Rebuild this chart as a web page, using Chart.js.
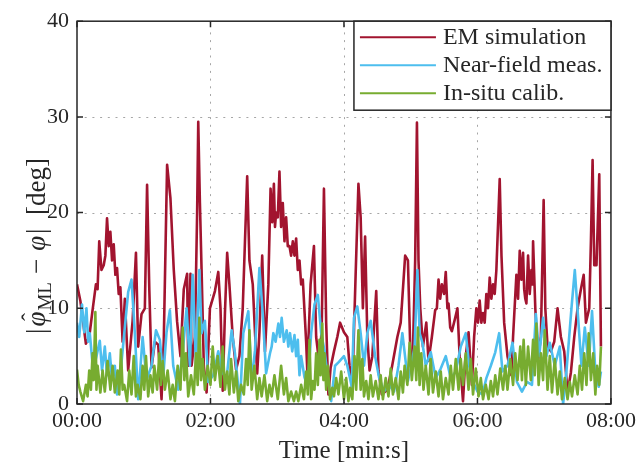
<!DOCTYPE html>
<html>
<head>
<meta charset="utf-8">
<script src="https://cdn.jsdelivr.net/npm/chart.js@4.4.0/dist/chart.umd.min.js"></script>
<style>
  html, body { margin:0; padding:0; background:#fff; }
  #wrap { width:640px; height:464px; }
</style>
</head>
<body>
<div id="wrap"><canvas id="c" width="640" height="464"></canvas></div>
<script>
/* phase error over time, three calibration methods (time in s, error in deg) */
const emTime = [0,3,8,11,14,17,20,24,27,30,33,36,39,41,43,46,50,53,55,58,
  61,63,65,67,70,73,76,78,81,84,87,90,93,96,99,100,102,103,106,108,
  109,110.5,112,114,116.5,119.5,124,127,129,131,133,135,137,140,143,146,149,151,153,155,
  158,160,162,164,166.5,169,172,174,177,179,182,185,188,191,194,197,200,203,206,207,
  210,213,215,218,220,222,224,226,228,231,234,236.5,240,243,245,247.5,250.5,253,255,257,
  259,261,263,265.5,269,271,274,279,283,288,291,295,297.5,300,302,304,305.6,307,308.6,311,
  314,316,319,322,325,328,331.5,334,337,340,342,344,347,349,352,355,357,359,362,365,
  368,371,374,377,380,381.6,384,387,390.5,392,395,398,401,403,405.5,408.5,410,412,414.4,417,
  419.5,421,423,426,429,432,435,438,441,444,447,450,453,455.5,457.5,460.5,462,463.5,465,467,
  469.5,471];
const emErr = [12.5,10.8,6.3,7,9.8,12.5,17,14.5,19.4,18,16.7,14.2,12.2,6.5,11,3.5,8.7,15.8,6,9.4,
  10,22.9,12,3.8,6.5,6.2,0.5,6.6,25,21.5,14,8.6,5,12,13.6,4,13.6,4,7,20,
  29.5,21,14,4,1.2,10,11.8,13.8,10,1.4,9.5,15.8,12.5,7,3.6,5,10,17,23.8,15,
  12.5,7.5,3.2,7.5,15.5,5.5,12.5,22.5,23,20,24.3,21,19.5,16.5,17,17.3,15,13,6.5,3.5,
  12.5,16.5,7,4,8,22.5,8.5,1,3.8,5.5,7,8.5,7.5,7,4,1.7,13.6,23,19.5,10,
  17.5,7,3.5,5,11.8,3.5,1,1.5,3.8,7,8.5,15.5,15,4,5.5,15,29.4,15,10,6,
  8.5,4.5,7,9.8,13,12.5,13.8,10.5,7.6,9,10,5,0.3,4.5,7.5,2,7,10,10.8,9.5,
  11.5,13.2,12.5,14,23.5,15.5,8.5,5,3,7,13.5,16,15.8,11,15.5,14,17,10,4.5,7,
  21.3,10,6,5.5,6.5,10,7,5.5,1.2,3.3,7,10,12,13.5,8.5,10,17,25.5,14.5,14.5,
  24,6];
// lower edge of the thick EM humps
const emDipTime = [18.5,22,25.5,28.5,31.5,34.5,37.5,175.5,178,180.5,183.5,186.5,189.5,192.5,195.5,198.5,201.5,
  323.5,326.5,330,333,335.5,360.5,363.5,366.5,369.5,372.5,375.5,396.5,399.5,402,404,407,409.5];
const emDipErr = [12,14,15.5,16.5,15,13.5,11.5,19,18.5,19.5,18.5,17,16.5,15.5,15.5,14,12.5,
  10,11,11.5,10,8,8.5,8.5,8.5,10,11,11.5,11,13,12,10.5,11.5,12.5];

const nfTime = [0,4.5,8.5,11.5,14.5,17.5,20.5,25,29.5,34,38.5,43,46,49,52,55,59,62.5,67,71,
  74.5,77.5,80.5,83.5,86.5,91,95.5,98.5,101.5,104,107,110,112,115,118,122.5,127,130,134.5,139,
  142,146.5,149.5,154,157,160,164,167,170,173.5,176.5,181,184,188.5,191.5,195.5,198.5,201.5,204.5,207.5,
  210.5,213.5,216.5,219.5,222.5,225.5,228.5,232,235.5,240,243,247,249,252,255,258,261,264,268,271.5,
  276,280.5,285,289,292.5,297.5,300.5,303.5,306,308,310.5,313.5,318,322.5,327,331.5,336,340.5,345,349.5,
  352.5,356,360,364.5,368,372,376,379.5,382.5,387,391.5,395.5,400,404.5,409,412.5,415.5,419,422,425,
  429.5,434,437,440,444.5,447.5,450.5,453.5,456.5,460,463,466,469,471];
const nfErr = [8.5,10.4,10,7.4,3.5,5,6.6,6,5.3,4,2.5,8,11.7,13,7.4,0.5,7,2.5,4,7.7,
  6.7,2.8,7.5,9.8,4,1.5,6,10,4,13.5,4,14,7.4,8.7,2.3,3,5.5,3.4,2.7,7.7,
  5.3,0,7.4,9.7,2.4,5.6,14.2,9.4,3.2,5.3,7.4,8.4,9,7.7,7.4,7.2,6.7,5,2.8,1.8,
  7.4,10.4,11.4,7.4,5.6,2.7,0.3,4,4.4,5,4,1.8,9,10.2,7.4,4,7.4,8.7,5,2.8,
  1.3,2,1.3,4,7.4,2.4,4,6,14,7.4,6.4,4,5.4,2.7,3.7,5,2.7,3.4,6,7.4,
  4,2.3,1.3,1,2.7,4,5.4,7.4,3.4,4,6.4,2.3,1.3,2.3,2,9.4,5,9,5,6.4,
  4,6,0,3.4,10,14,9,4,8,4,9.7,3.4,1.8,3.4];
// lower edge of the near-field band
const nfDipTime = [2,6.5,10,22.5,27,31.5,36,175,178.5,182.5,186,190,193.5,197,200];
const nfDipErr = [7,7.5,6.5,3.5,3,2.5,1,6,6.5,7,6.5,6,5.5,5,3];

const isTime = [0,3,8,11,14,16.5,18.5,23,27.5,32,36.5,39.5,42.5,47,51,54.5,59,62,66,69.5,
  74,77,81.5,86,90.5,95,98,102.5,107,110,113,117.5,122,126.5,131,135,138.5,143,147.5,152,
  155,159.5,164,168.5,173,177.5,183.5,188,192.5,197,201.5,206,209,212,215,218,220.5,222.5,225.5,229.5,
  233,237.5,242,245.5,249.5,253,256.5,260,264,268.5,273,277.5,282,286.5,291,294.5,299,303.5,306.5,309.5,
  313.5,318,322.5,327,331.5,336,340.5,345,349.5,354,358.5,363,367.5,372,376,380.5,385,389.5,394,398.5,
  401.5,405.5,410,413,417,420.5,425,429.5,434,438.5,443,447.5,452,456,460,464,467.5,471];
const isErr = [3.6,1.3,2,3.5,5.3,9.6,4,3.5,4.5,4,3.5,5.7,2,3.5,5,2,4,5,3,4,
  5.3,4.5,3.5,2,4,8,5.3,3,5.3,9,4.7,4,6,5,6,3.4,4.7,3.4,2,4.7,
  7.7,4,2.7,3,2,3,4,2.7,1.3,1.3,2,3.4,6.7,2.4,5.3,6.7,8.4,5.3,4,1.7,
  2.7,3.4,2.7,1.7,5,7.7,4.7,2.4,3,2.4,3,2.7,3.7,2.7,3.4,4,6.4,6,8,5.3,
  4,4.7,3.4,3.4,2.7,4,4.7,4.7,5.3,4.7,3.7,2.7,2,2.4,3,3.7,4,4.7,5.3,6,
  6.7,6,6.7,8.4,5.3,7.7,5,4.7,3.4,2.7,2.3,3,4,5.3,7.4,5.3,4,6];
// lower edge of the in-situ band
const isDipTime = [1.5,5.5,9.5,12.5,15,17.5,21,25,30,34,38,41,45,49,53,57,60.5,64,68,72,
  75.5,79,84,88,93,96.5,100,105,108.5,111.5,115,120,124,129,133,137,141,145,150,153.5,
  157,162,166,171,175,180.5,186,190,195,199,204,207.5,210.5,213.5,216.5,219,221.5,224,227.5,231,
  235,240,244,247.5,251,255,258,262,266,271,275,280,284,289,293,297,301,305,308,311.5,
  316,320,325,329,334,338,343,347,352,356,361,365,370,374,378,383,387,392,396,400,
  403.5,408,411.5,415,419,423,427,432,436,441,445,450,454,458,462,466,469.5];
const isDipErr = [2,0.3,0.8,1.5,2.5,1.5,1.2,1.3,1.5,1.2,1,1.5,0.3,1,0.8,0.5,1.5,0.8,1.2,1.5,
  2,1.5,0.5,0.3,1.5,2.5,0.8,1,2,2.5,1.5,2,2.5,1.8,1.5,1,1.2,0.3,1,2,
  1.5,0.5,0.8,0.3,0.8,0.5,1,0.3,0.3,0.3,0.5,1,0.5,1.5,2,3,2.5,1.5,0.5,0.8,
  1,0.5,0.3,0.5,1.5,1.5,0.8,0.5,0.8,0.5,0.5,0.8,1,0.5,1.2,2,2.5,2.5,2,1.5,
  1,1.2,0.8,0.5,1,1.5,1.5,2,1.5,1,0.8,0.5,0.5,0.8,1,1.5,1.5,2,2.5,2.5,
  2,2.5,3,2,2.5,1.5,1.2,1,0.5,0.5,0.8,1,1.5,2,2.5,1,2];

const seriesNames = ['EM simulation', 'Near-field meas.', 'In-situ calib.'];
const seriesColors = ['#A2142F', '#4DBEEE', '#77AC30'];
const xTickValues = [0, 120, 240, 360, 480];
const xTickLabels = ['00:00', '02:00', '04:00', '06:00', '08:00'];
const yTickValues = [0, 10, 20, 30, 40];

const SERIF = '"Liberation Serif", "Times New Roman", serif';
const INK = '#262626';

// merge the upper readings with the band's lower edge, in time order
function pts(t, v, dt, dv){
  const a = t.map((x, i) => ({ x: x, y: v[i] }));
  const b = dt.map((x, i) => ({ x: x, y: dv[i] }));
  return a.concat(b).sort((p, q) => p.x - q.x);
}

// grid, box, inward ticks, legend and axis labels drawn by hand (MATLAB look)
const matlabAxes = {
  id: 'matlabAxes',
  beforeDatasetsDraw(chart){
    const { ctx, chartArea: a, scales: { x, y } } = chart;
    ctx.save();
    ctx.strokeStyle = '#a6a6a6';
    ctx.lineWidth = 1;
    ctx.setLineDash([2, 5.7]);
    xTickValues.slice(1, -1).forEach(v => {
      const px = Math.round(x.getPixelForValue(v)) + 0.5;
      ctx.beginPath(); ctx.moveTo(px, a.bottom); ctx.lineTo(px, a.top); ctx.stroke();
    });
    yTickValues.slice(1, -1).forEach(v => {
      const py = Math.round(y.getPixelForValue(v)) + 0.5;
      ctx.beginPath(); ctx.moveTo(a.left, py); ctx.lineTo(a.right, py); ctx.stroke();
    });
    ctx.restore();
  },
  afterDatasetsDraw(chart){
    const { ctx, chartArea: a, scales: { x, y } } = chart;
    ctx.save();
    ctx.strokeStyle = INK;
    ctx.lineWidth = 1.5;
    ctx.setLineDash([]);
    ctx.strokeRect(a.left, a.top, a.right - a.left, a.bottom - a.top);
    const tl = 6;
    ctx.beginPath();
    xTickValues.forEach(v => {
      const px = x.getPixelForValue(v);
      ctx.moveTo(px, a.bottom); ctx.lineTo(px, a.bottom - tl);
      ctx.moveTo(px, a.top); ctx.lineTo(px, a.top + tl);
    });
    yTickValues.forEach(v => {
      const py = y.getPixelForValue(v);
      ctx.moveTo(a.left, py); ctx.lineTo(a.left + tl, py);
      ctx.moveTo(a.right, py); ctx.lineTo(a.right - tl, py);
    });
    ctx.stroke();

    // legend box, top right inside the axes
    const lw = 257, lh = 89, rowH = 28;
    const lx = a.right - lw, ly = a.top;
    ctx.fillStyle = '#fff';
    ctx.fillRect(lx, ly, lw, lh);
    ctx.strokeRect(lx, ly, lw, lh);
    ctx.font = '24px ' + SERIF;
    ctx.textBaseline = 'middle';
    ctx.textAlign = 'left';
    seriesNames.forEach((name, i) => {
      const cy = ly + 16 + i * rowH;
      ctx.strokeStyle = seriesColors[i];
      ctx.lineWidth = 2;
      ctx.beginPath(); ctx.moveTo(lx + 6, cy); ctx.lineTo(lx + 82, cy); ctx.stroke();
      ctx.fillStyle = INK;
      ctx.fillText(name, lx + 89, cy + 1);
    });
    ctx.restore();
  },
  afterDraw(chart){
    const { ctx, chartArea: a } = chart;
    ctx.save();
    ctx.fillStyle = INK;
    // x label
    ctx.font = '25px ' + SERIF;
    ctx.textAlign = 'center';
    ctx.textBaseline = 'alphabetic';
    ctx.fillText('Time [min:s]', (a.left + a.right) / 2, 458);
    // y label |phi_hat_ML - phi| [deg], rotated
    ctx.translate(45, 246);
    ctx.rotate(-Math.PI / 2);
    const big = '27px ' + SERIF, ital = 'italic 27px ' + SERIF, small = '19px ' + SERIF;
    const parts = [
      { t: '|', f: big, dy: 0, gap: 2 },
      { t: '\u03C6', f: ital, dy: 0, hat: true, gap: 1 },
      { t: 'ML', f: small, dy: 6, gap: 8 },
      { t: '\u2212', f: big, dy: 0, gap: 8 },
      { t: '\u03C6', f: ital, dy: 0, gap: 2 },
      { t: '|  [deg]', f: big, dy: 0, gap: 0 }
    ];
    let total = 0;
    parts.forEach(p => { ctx.font = p.f; p.w = ctx.measureText(p.t).width; total += p.w + p.gap; });
    let cx = -total / 2;
    ctx.textAlign = 'left';
    parts.forEach(p => {
      ctx.font = p.f;
      ctx.fillText(p.t, cx, p.dy);
      if (p.hat) {
        ctx.font = '24px ' + SERIF;
        ctx.textAlign = 'center';
        ctx.fillText('\u02C6', cx + p.w / 2 + 2, -7);
        ctx.textAlign = 'left';
      }
      cx += p.w + p.gap;
    });
    ctx.restore();
  }
};

new Chart(document.getElementById('c'), {
  type: 'line',
  data: {
    datasets: [
      { label: seriesNames[0], data: pts(emTime, emErr, emDipTime, emDipErr), borderColor: seriesColors[0], order: 3 },
      { label: seriesNames[1], data: pts(nfTime, nfErr, nfDipTime, nfDipErr), borderColor: seriesColors[1], order: 2 },
      { label: seriesNames[2], data: pts(isTime, isErr, isDipTime, isDipErr), borderColor: seriesColors[2], order: 1 }
    ]
  },
  options: {
    responsive: false,
    animation: false,
    devicePixelRatio: 1,
    layout: { padding: { top: 19, right: 26, left: 0, bottom: 0 } },
    elements: {
      point: { radius: 0, hoverRadius: 0 },
      line: { borderWidth: 2.6, tension: 0, fill: false, borderJoinStyle: 'round' }
    },
    plugins: { legend: { display: false }, tooltip: { enabled: false } },
    scales: {
      x: {
        type: 'linear', min: 0, max: 480,
        afterBuildTicks: s => { s.ticks = xTickValues.map(v => ({ value: v })); },
        afterFit: s => { s.height = 60; },
        ticks: {
          callback: v => xTickLabels[xTickValues.indexOf(v)],
          font: { family: SERIF, size: 22 }, color: INK, padding: 4, maxRotation: 0
        },
        grid: { display: false, drawTicks: false },
        border: { display: false }
      },
      y: {
        min: 0, max: 40,
        afterBuildTicks: s => { s.ticks = yTickValues.map(v => ({ value: v })); },
        afterFit: s => { s.width = 77; },
        ticks: { font: { family: SERIF, size: 22 }, color: INK, padding: 8 },
        grid: { display: false, drawTicks: false },
        border: { display: false }
      }
    }
  },
  plugins: [matlabAxes]
});
</script>
</body>
</html>
